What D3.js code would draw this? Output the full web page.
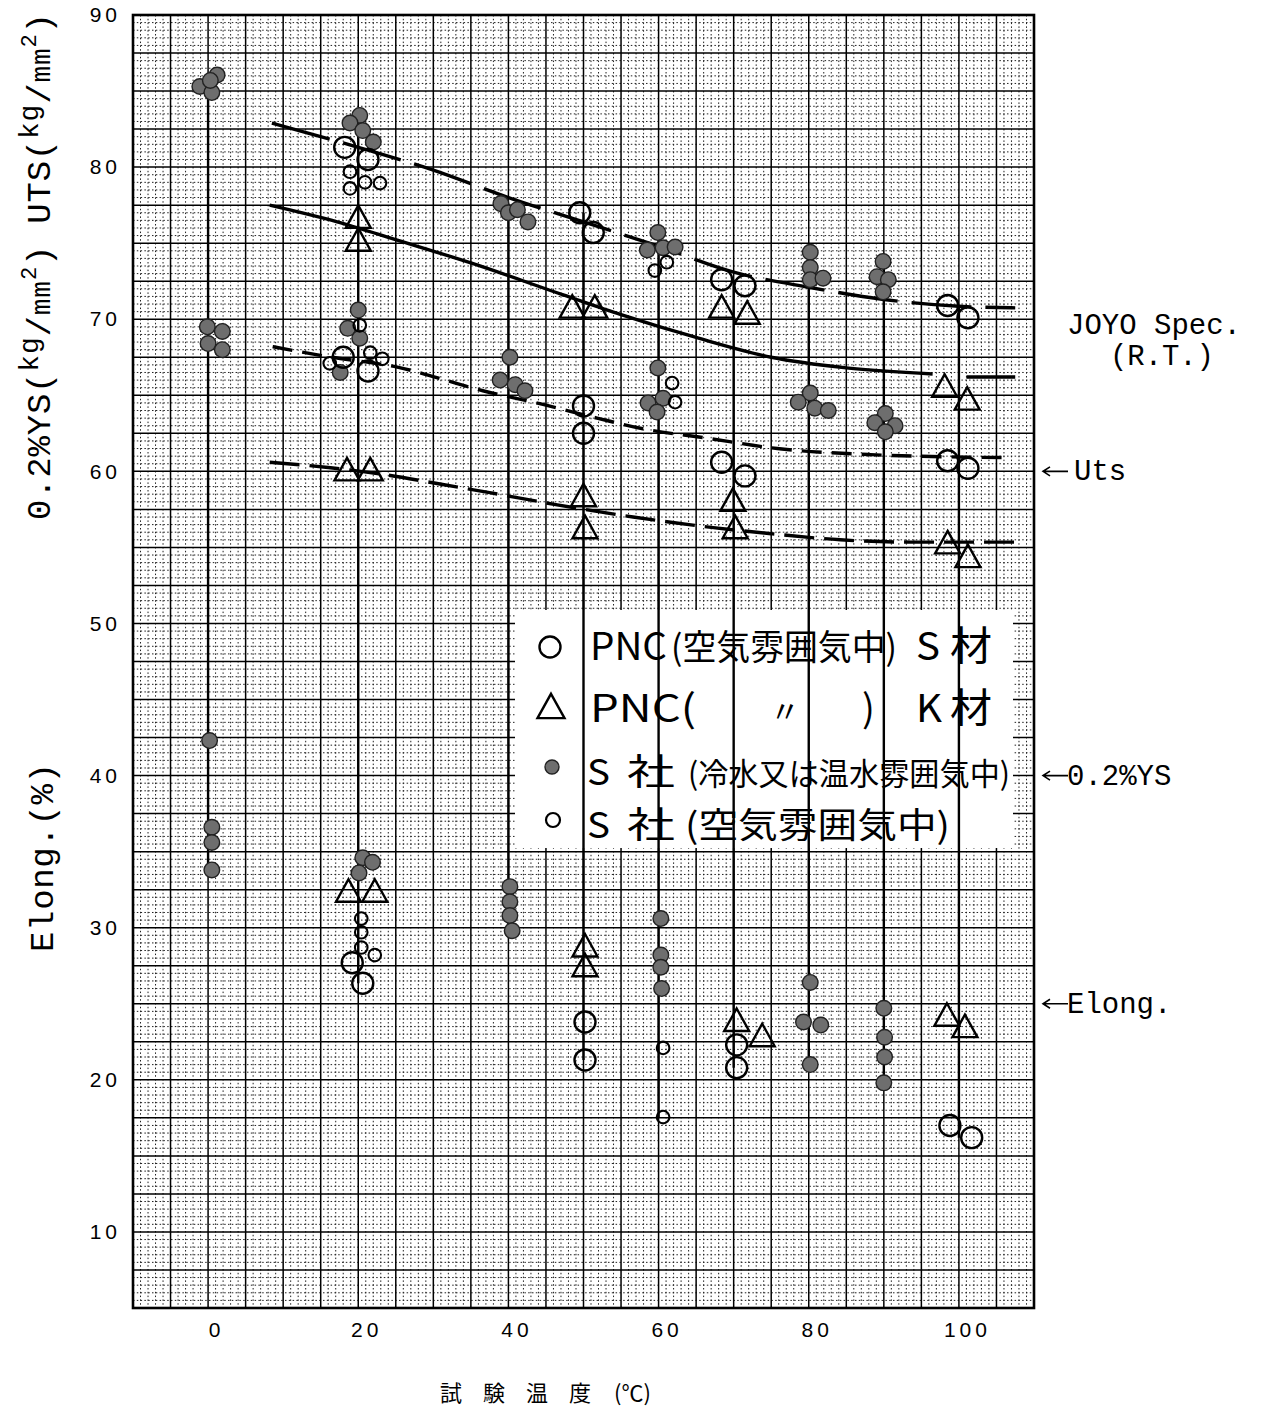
<!DOCTYPE html>
<html><head><meta charset="utf-8">
<script src="https://cdn.jsdelivr.net/npm/d3@7"></script>
<style>body{margin:0;background:#fff}svg{display:block}</style>
</head><body>
<script>
// ---------------- DATA ----------------
const xTicks = [0, 20, 40, 60, 80, 100];
const yTicks = [10, 20, 30, 40, 50, 60, 70, 80, 90];
const tempGroups = [0, 20, 40, 50, 60, 70, 80, 90, 100];

// PNC (空気雰囲気中) S材 : large open circles  [temperature, value]
const pncS_uts = [[18.2,81.3],[21.3,80.5],[49.5,77.0],[51.3,75.7],[68.4,72.6],[71.5,72.2],[98.5,70.9],[101.2,70.1]];
const pncS_ys  = [[18.0,67.5],[21.3,66.6],[50.0,64.3],[50.0,62.5],[68.4,60.6],[71.5,59.7],[98.5,60.7],[101.2,60.2]];
const pncS_el  = [[19.2,27.7],[20.6,26.35],[50.2,23.8],[50.2,21.3],[70.4,22.3],[70.4,20.8],[98.8,17.0],[101.7,16.2]];

// PNC ( 〃 ) K材 : open triangles
const pncK_uts = [[20.0,76.5],[20.0,75.0],[48.5,70.6],[51.5,70.6],[68.4,70.6],[71.8,70.2],[98.1,65.4],[101.1,64.55]];
const pncK_ys  = [[18.5,59.9],[21.6,59.9],[50.0,58.2],[50.2,56.1],[69.9,57.9],[70.2,56.1],[98.5,55.1],[101.2,54.2]];
const pncK_el  = [[18.7,32.2],[22.2,32.2],[50.2,28.6],[50.2,27.3],[70.4,23.7],[73.8,22.7],[98.4,24.05],[100.8,23.3]];

// S社 (冷水又は温水雰囲気中) : filled grey dots
const sW_uts = [[-1.1,85.3],[1.2,86.05],[0.5,84.9],[0.3,85.7],[20.2,83.4],[18.9,82.9],[20.6,82.4],[22.0,81.65],
  [39.0,77.6],[40.0,77.0],[41.2,77.2],[42.6,76.4],[59.9,75.7],[58.5,74.55],[60.6,74.7],[62.2,74.75],
  [80.2,74.4],[80.2,73.4],[80.2,72.6],[81.9,72.7],[89.9,73.8],[89.1,72.8],[90.6,72.6],[89.9,71.8]];
const sW_ys = [[-0.1,69.5],[1.9,69.2],[0.0,68.4],[1.9,68.0],[20.0,70.6],[18.6,69.4],[20.2,68.75],[17.6,66.5],
  [40.2,67.5],[38.9,66.0],[40.9,65.7],[42.2,65.3],[59.9,66.8],[58.6,64.5],[60.6,64.8],[59.8,63.9],
  [80.2,65.15],[78.6,64.55],[80.8,64.15],[82.6,64.0],[90.2,63.8],[88.8,63.2],[91.5,63.0],[90.2,62.6]];
const sW_el = [[0.2,42.3],[0.5,36.6],[0.5,35.6],[0.5,33.8],[20.6,34.6],[21.9,34.3],[20.1,33.6],
  [40.2,32.7],[40.2,31.7],[40.2,30.8],[40.5,29.8],[60.3,30.6],[60.3,28.2],[60.3,27.4],[60.4,26.0],
  [80.2,26.4],[79.3,23.8],[81.6,23.6],[80.2,21.0],[90.0,24.7],[90.1,22.8],[90.1,21.5],[90.0,19.8]];

// S社 (空気雰囲気中) : small open circles
const sA_uts = [[18.9,79.7],[18.9,78.6],[20.9,79.0],[22.9,78.95],[61.1,73.75],[59.5,73.2]];
const sA_ys  = [[20.2,69.6],[16.2,67.1],[21.6,67.8],[23.2,67.4],[61.8,65.8],[62.2,64.55]];
const sA_el  = [[20.4,30.6],[20.4,29.7],[20.4,28.7],[22.2,28.2],[60.6,22.1],[60.6,17.55]];

// Hand-drawn trend curves
const fitUtsS = [[8.5,82.9],[20,81.3],[30,79.8],[40,78.0],[50,76.4],[60,74.8],[70,73.1],[80,72.1],[90,71.3],[100,70.85],[107.5,70.75]];
const fitUtsK = [[8.2,77.5],[17.2,76.4],[25.2,75.2],[35,73.7],[47.3,71.6],[55,70.3],[65,68.8],[75,67.5],[85,66.8],[96.5,66.4],null,[101,66.2],[107.5,66.2]];
const fitYsS  = [[8.6,68.2],[15.2,67.6],[25.2,66.85],[36.6,65.3],[44.6,64.4],[51.8,63.5],[57.9,62.8],[66.2,62.2],[75.8,61.5],[88.2,61.1],[107,60.9]];
const fitYsK  = [[8.2,60.6],[16,60.25],[24,59.75],[30.5,59.2],[37.5,58.6],[46.5,57.8],[56.6,57.0],[67.3,56.3],[75,55.9],[84.2,55.5],[93.5,55.35],[107.5,55.35]];

// JOYO Spec (R.T.) levels
const specLevels = [["Uts",60],["0.2%YS",40],["Elong.",25]];

// ---------------- CHART ----------------
const W = 1265, H = 1413;
const svg = d3.select("body").append("svg").attr("width", W).attr("height", H);
const x = d3.scaleLinear().domain([-10, 110]).range([133, 1034]);
const y = d3.scaleLinear().domain([5, 90]).range([1308, 15]);
const mono = "'Liberation Mono','DejaVu Sans Mono',monospace";
const jp = "'Noto Sans CJK JP','Noto Sans CJK SC',sans-serif";

// grid
const grid = svg.append("g");
const xs = d3.range(-10, 110.001, 1);
const ys = d3.range(5, 90.001, 0.5);
const isMajorY = v => Math.abs(v / 2.5 - Math.round(v / 2.5)) <= 1e-6;
grid.selectAll("line.vm").data(xs.filter(v => Math.round(v) % 5 !== 0)).join("line")
  .attr("x1", d => x(d)).attr("x2", d => x(d)).attr("y1", y(90)).attr("y2", y(5))
  .attr("stroke", "#222").attr("stroke-width", 1).attr("stroke-dasharray", "1.5,2.3");
grid.selectAll("line.hm").data(ys.filter(v => !isMajorY(v))).join("line")
  .attr("x1", x(-10)).attr("x2", x(110)).attr("y1", d => y(d)).attr("y2", d => y(d))
  .attr("stroke", "#222").attr("stroke-width", 1).attr("stroke-dasharray", "1.5,2.3");
grid.selectAll("line.vM").data(xs.filter(v => Math.round(v) % 5 === 0)).join("line")
  .attr("x1", d => x(d)).attr("x2", d => x(d)).attr("y1", y(90)).attr("y2", y(5))
  .attr("stroke", "#000").attr("stroke-width", 1.5);
grid.selectAll("line.hM").data(ys.filter(isMajorY)).join("line")
  .attr("x1", x(-10)).attr("x2", x(110)).attr("y1", d => y(d)).attr("y2", d => y(d))
  .attr("stroke", "#000").attr("stroke-width", 1.5);

// legend background
svg.append("rect").attr("x", 515).attr("y", 610).attr("width", 498).attr("height", 238).attr("fill", "#fff");

// range lines per temperature
const allPts = [].concat(pncS_uts, pncS_ys, pncS_el, pncK_uts, pncK_ys, pncK_el, sW_uts, sW_ys, sW_el, sA_uts, sA_ys, sA_el);
const ranges = tempGroups.map(t => {
  const vals = allPts.filter(p => Math.abs(p[0] - t) < 4).map(p => p[1]);
  return {t, lo: d3.min(vals), hi: d3.max(vals)};
});
svg.append("g").selectAll("line").data(ranges).join("line")
  .attr("x1", d => x(d.t)).attr("x2", d => x(d.t)).attr("y1", d => y(d.hi)).attr("y2", d => y(d.lo))
  .attr("stroke", "#000").attr("stroke-width", 2.4);

// curves
const lineGen = d3.line().defined(d => d !== null).x(d => x(d[0])).y(d => y(d[1])).curve(d3.curveMonotoneX);
const curves = [
  {d: fitUtsS, dash: "60,14"},
  {d: fitUtsK, dash: null},
  {d: fitYsS, dash: "20,10"},
  {d: fitYsK, dash: "30,10"}
];
svg.append("g").selectAll("path").data(curves).join("path")
  .attr("d", c => lineGen(c.d)).attr("fill", "none").attr("stroke", "#000")
  .attr("stroke-width", 3.4).attr("stroke-dasharray", c => c.dash);

// markers
const mk = svg.append("g");
const triPath = s => { const h = s * 0.9; return `M0,${-2*h/3}L${s/2},${h/3}L${-s/2},${h/3}Z`; };
mk.selectAll("path.grey").data([].concat(sW_uts, sW_ys, sW_el)).join("path")
  .attr("d", d3.symbol().type(d3.symbolCircle).size(Math.PI * 7.8 * 7.8)())
  .attr("transform", d => `translate(${x(d[0])},${y(d[1])})`)
  .attr("fill", "#6e6e6e").attr("stroke", "#222").attr("stroke-width", 1.4);
mk.selectAll("circle.big").data([].concat(pncS_uts, pncS_ys, pncS_el)).join("circle")
  .attr("cx", d => x(d[0])).attr("cy", d => y(d[1])).attr("r", 10.5)
  .attr("fill", "none").attr("stroke", "#000").attr("stroke-width", 2.4);
mk.selectAll("circle.small").data([].concat(sA_uts, sA_ys, sA_el)).join("circle")
  .attr("cx", d => x(d[0])).attr("cy", d => y(d[1])).attr("r", 6.3)
  .attr("fill", "none").attr("stroke", "#000").attr("stroke-width", 2.1);
mk.selectAll("path.tri").data([].concat(pncK_uts, pncK_ys, pncK_el)).join("path")
  .attr("d", triPath(25)).attr("transform", d => `translate(${x(d[0])},${y(d[1])})`)
  .attr("fill", "none").attr("stroke", "#000").attr("stroke-width", 2.4).attr("stroke-linejoin", "miter");

// frame
svg.append("rect").attr("x", x(-10)).attr("y", y(90)).attr("width", x(110) - x(-10)).attr("height", y(5) - y(90))
  .attr("fill", "none").attr("stroke", "#000").attr("stroke-width", 2.6);

// axes
const ax = svg.append("g").attr("transform", `translate(${x(-10)},0)`)
  .call(d3.axisLeft(y).tickValues(yTicks).tickSize(0).tickPadding(12));
ax.select(".domain").remove();
ax.selectAll("text").attr("font-family", "'Liberation Sans',Arial,sans-serif").attr("font-size", 21)
  .attr("letter-spacing", 4).attr("fill", "#000");
const bx = svg.append("g").attr("transform", `translate(0,${y(5)})`)
  .call(d3.axisBottom(x).tickValues(xTicks).tickSize(0).tickPadding(14));
bx.select(".domain").remove();
bx.selectAll("text").attr("font-family", "'Liberation Sans',Arial,sans-serif").attr("font-size", 21)
  .attr("letter-spacing", 4).attr("dx", 8).attr("fill", "#000");

// axis titles
const yt = svg.append("text").attr("transform", "translate(50,520) rotate(-90)")
  .attr("font-family", mono).attr("font-size", 34).attr("textLength", 507).attr("lengthAdjust", "spacing");
const ytParts = [["0.2%YS(",34,0],["kg",28,-12],["/",34,12],["mm",28,0],["2",22,-14],[")",34,14],[" UTS(",34,0],["kg",28,-12],["/",34,12],["mm",28,0],["2",22,-14],[")",34,14]];
ytParts.forEach(p => yt.append("tspan").attr("font-size", p[1]).attr("dy", p[2]).text(p[0]));
svg.append("text").attr("transform", "translate(53,952) rotate(-90)")
  .attr("font-family", mono).attr("font-size", 34).attr("textLength", 189).attr("lengthAdjust", "spacing")
  .text("Elong.(%)");
svg.append("text").attr("x", 440).attr("y", 1401).attr("font-family", jp).attr("font-size", 22)
  .attr("letter-spacing", 21).text("試験温度");
svg.append("text").attr("x", 614).attr("y", 1401).attr("font-family", jp).attr("font-size", 22)
  .text("(℃)");

// JOYO spec annotations
svg.append("text").attr("x", 1067).attr("y", 334).attr("font-family", mono).attr("font-size", 29)
  .attr("textLength", 174).attr("lengthAdjust", "spacing").text("JOYO Spec.");
svg.append("text").attr("x", 1110).attr("y", 365).attr("font-family", mono).attr("font-size", 29)
  .attr("textLength", 104).attr("lengthAdjust", "spacing").text("(R.T.)");
const ann = svg.append("g").selectAll("g").data(specLevels).join("g")
  .attr("transform", d => `translate(0,${y(d[1])})`);
ann.append("path").attr("d", "M1068,0L1043,0M1050,-4.5L1043,0L1050,4.5")
  .attr("fill", "none").attr("stroke", "#000").attr("stroke-width", 1.6);
ann.append("text").attr("x", d => d[0] === "Uts" ? 1074 : 1067).attr("y", 9)
  .attr("font-family", mono).attr("font-size", 29).text(d => d[0]);

// legend
const lg = svg.append("g").attr("font-family", jp).attr("fill", "#000");
lg.append("circle").attr("cx", 550).attr("cy", 647).attr("r", 10.5).attr("fill", "none").attr("stroke", "#000").attr("stroke-width", 2.4);
lg.append("path").attr("d", triPath(27)).attr("transform", "translate(551,710)").attr("fill", "none").attr("stroke", "#000").attr("stroke-width", 2.4);
lg.append("circle").attr("cx", 552).attr("cy", 767).attr("r", 7).attr("fill", "#6e6e6e").attr("stroke", "#222").attr("stroke-width", 1.4);
lg.append("circle").attr("cx", 553).attr("cy", 820).attr("r", 7).attr("fill", "none").attr("stroke", "#000").attr("stroke-width", 2.2);
const legendText = [
  ["PNC", 590, 660, 38, 77], ["(空気雰囲気中)", 671, 660, 35, 226], ["S", 916, 660, 38, 24], ["材", 950, 660, 40, 42],
  ["PNC(", 590, 722, 38, 106], ["〃", 770, 722, 30, null], [")", 862, 722, 38, null], ["K", 916, 722, 38, 26], ["材", 950, 722, 40, 42],
  ["S", 587, 785, 36, 23], ["社", 627, 785, 36, 48], ["(冷水又は温水雰囲気中)", 688, 785, 31, 322],
  ["S", 587, 838, 36, 23], ["社", 627, 838, 36, 48], ["(空気雰囲気中)", 685, 838, 35, 265]
];
legendText.forEach(t => {
  const e = lg.append("text").attr("x", t[1]).attr("y", t[2]).attr("font-size", t[3]).text(t[0]);
  if (t[4]) e.attr("textLength", t[4]).attr("lengthAdjust", "spacingAndGlyphs");
});
</script>
</body></html>
